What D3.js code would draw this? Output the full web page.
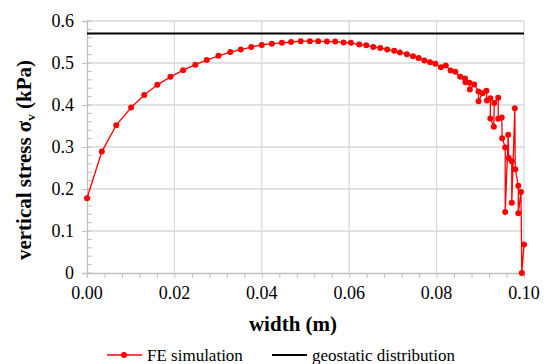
<!DOCTYPE html>
<html>
<head>
<meta charset="utf-8">
<script src="https://cdn.jsdelivr.net/npm/d3@7"></script>
<style>
  body { margin: 0; background: #fff; }
  svg text { font-family: "Times New Roman", "Liberation Serif", "DejaVu Serif", serif; fill: #000; }
</style>
</head>
<body>
<div id="chart"></div>
<script>
// FE simulation nodes (width in m, vertical stress in kPa)
const widthFE = [
  0.0000, 0.0034, 0.0067, 0.0101, 0.0131, 0.0161, 0.0191, 0.0220, 0.0248, 0.0274,
  0.0301, 0.0328, 0.0352, 0.0376, 0.0400, 0.0423, 0.0446, 0.0467, 0.0489, 0.0510,
  0.0529, 0.0549, 0.0568, 0.0587, 0.0604, 0.0623, 0.0639, 0.0655, 0.0671, 0.0687,
  0.0703, 0.0716, 0.0732, 0.0746, 0.0759, 0.0772, 0.0785, 0.0797, 0.0810, 0.0821,
  0.0832, 0.0843, 0.0854, 0.0865, 0.0866, 0.0875, 0.0876, 0.0886, 0.0896, 0.0896,
  0.0905, 0.0914, 0.0915, 0.0923, 0.0923, 0.0931, 0.0932, 0.0941, 0.0941, 0.0949,
  0.0950, 0.0957, 0.0957, 0.0964, 0.0965, 0.0972, 0.0972, 0.0979, 0.0980, 0.0987,
  0.0987, 0.0993, 0.0995, 0.1000
];
const stressFE = [
  0.178, 0.289, 0.352, 0.394, 0.424, 0.448, 0.467, 0.483, 0.496, 0.507,
  0.517, 0.526, 0.532, 0.538, 0.543, 0.546, 0.548, 0.550, 0.552, 0.552,
  0.552, 0.551, 0.551, 0.549, 0.548, 0.544, 0.542, 0.538, 0.536, 0.532,
  0.529, 0.525, 0.521, 0.516, 0.512, 0.506, 0.502, 0.498, 0.490, 0.494,
  0.482, 0.479, 0.467, 0.463, 0.454, 0.453, 0.437, 0.449, 0.432, 0.409,
  0.428, 0.434, 0.411, 0.416, 0.368, 0.348, 0.405, 0.417, 0.367, 0.370,
  0.321, 0.299, 0.145, 0.329, 0.274, 0.266, 0.167, 0.392, 0.247, 0.208,
  0.142, 0.193, 0.000, 0.068
];
// geostatic distribution
const widthGeo = [0, 0.1];
const stressGeo = [0.57, 0.57];

const xTicks = [0, 0.02, 0.04, 0.06, 0.08, 0.10];
const yTicks = [0, 0.1, 0.2, 0.3, 0.4, 0.5, 0.6];
const legendNames = ["FE simulation", "geostatic distribution"];

const serif = '"Times New Roman", "Liberation Serif", serif';
const width = 544, height = 364;
const margin = { top: 21, right: 20, bottom: 91, left: 87 };

const svg = d3.select("#chart")
  .append("svg")
  .attr("width", width)
  .attr("height", height);

const xScale = d3.scaleLinear().domain([0, 0.1]).range([margin.left, width - margin.right]);
const yScale = d3.scaleLinear().domain([0, 0.6]).range([height - margin.bottom, margin.top]);

// gridlines
svg.append("g")
  .selectAll("line")
  .data(yTicks.filter(d => d > 0))
  .join("line")
  .attr("x1", xScale(0)).attr("x2", xScale(0.1))
  .attr("y1", d => yScale(d)).attr("y2", d => yScale(d))
  .attr("stroke", "#d9d9d9").attr("stroke-width", 1.3);

svg.append("g")
  .selectAll("line")
  .data(xTicks.filter(d => d > 0))
  .join("line")
  .attr("x1", d => xScale(d)).attr("x2", d => xScale(d))
  .attr("y1", yScale(0)).attr("y2", yScale(0.6))
  .attr("stroke", "#d9d9d9").attr("stroke-width", 1.3);

// x axis
const xAxis = svg.append("g")
  .attr("transform", `translate(0,${yScale(0)})`)
  .call(d3.axisBottom(xScale).tickValues(d3.range(0, 0.1001, 0.004)).tickSize(5).tickFormat(""));
xAxis.select(".domain").attr("stroke", "#bfbfbf").attr("stroke-width", 1.3);
xAxis.selectAll(".tick line").attr("stroke", "#bfbfbf");

svg.append("g")
  .selectAll("text")
  .data(xTicks)
  .join("text")
  .attr("x", d => xScale(d))
  .attr("y", yScale(0) + 26)
  .attr("text-anchor", "middle")
  .attr("font-family", serif)
  .style("font-size", "18px")
  .text(d => d3.format(".2f")(d));

// y axis: major ticks outside, minor inside
const yAxis = svg.append("g")
  .attr("transform", `translate(${xScale(0)},0)`)
  .call(d3.axisLeft(yScale).tickValues(yTicks).tickSize(5).tickFormat(""));
yAxis.select(".domain").attr("stroke", "#bfbfbf").attr("stroke-width", 1.3);
yAxis.selectAll(".tick line").attr("stroke", "#bfbfbf");

svg.append("g")
  .attr("transform", `translate(${xScale(0)},0)`)
  .selectAll("line")
  .data(d3.range(0, 0.6001, 0.02))
  .join("line")
  .attr("x1", 0).attr("x2", 5)
  .attr("y1", d => yScale(d)).attr("y2", d => yScale(d))
  .attr("stroke", "#bfbfbf");

svg.append("g")
  .selectAll("text")
  .data(yTicks)
  .join("text")
  .attr("x", xScale(0) - 13)
  .attr("y", d => yScale(d))
  .attr("dy", "0.33em")
  .attr("text-anchor", "end")
  .attr("font-family", serif)
  .style("font-size", "18px")
  .text(d => d === 0 ? "0" : d3.format(".1f")(d));

// axis titles
svg.append("text")
  .attr("x", 293)
  .attr("y", 331)
  .attr("text-anchor", "middle")
  .attr("font-family", serif)
  .style("font-size", "21px")
  .style("font-weight", "bold")
  .text("width (m)");

const yTitle = svg.append("text")
  .attr("transform", "translate(31,160) rotate(-90)")
  .attr("text-anchor", "middle")
  .attr("font-family", serif)
  .style("font-size", "21px")
  .style("font-weight", "bold");
yTitle.append("tspan").text("vertical stress σ");
yTitle.append("tspan").attr("dy", 4).style("font-size", "13px").text("v");
yTitle.append("tspan").attr("dy", -4).text(" (kPa)");

// series
const feData = widthFE.map((w, i) => ({ x: w, y: stressFE[i] }));
const geoData = widthGeo.map((w, i) => ({ x: w, y: stressGeo[i] }));

const line = d3.line()
  .x(d => xScale(d.x))
  .y(d => yScale(d.y));

svg.append("path")
  .datum(geoData)
  .attr("d", line)
  .attr("fill", "none")
  .attr("stroke", "#000")
  .attr("stroke-width", 2);

svg.append("path")
  .datum(feData)
  .attr("d", line)
  .attr("fill", "none")
  .attr("stroke", "#ff0000")
  .attr("stroke-width", 1.3);

svg.append("g")
  .selectAll("circle")
  .data(feData)
  .join("circle")
  .attr("cx", d => xScale(d.x))
  .attr("cy", d => yScale(d.y))
  .attr("r", 3)
  .attr("fill", "#ff0000");

// legend
const legendY = 355;
const legend = svg.append("g");
legend.append("line")
  .attr("x1", 107).attr("x2", 142)
  .attr("y1", legendY).attr("y2", legendY)
  .attr("stroke", "#ff0000").attr("stroke-width", 1.3);
legend.append("circle")
  .attr("cx", 124).attr("cy", legendY).attr("r", 3)
  .attr("fill", "#ff0000");
legend.append("text")
  .attr("x", 147).attr("y", legendY).attr("dy", "0.33em")
  .attr("font-family", serif)
  .style("font-size", "17px")
  .text(legendNames[0]);
legend.append("line")
  .attr("x1", 272).attr("x2", 307)
  .attr("y1", legendY).attr("y2", legendY)
  .attr("stroke", "#000").attr("stroke-width", 2);
legend.append("text")
  .attr("x", 312).attr("y", legendY).attr("dy", "0.33em")
  .attr("font-family", serif)
  .style("font-size", "17px")
  .text(legendNames[1]);
</script>
</body>
</html>
